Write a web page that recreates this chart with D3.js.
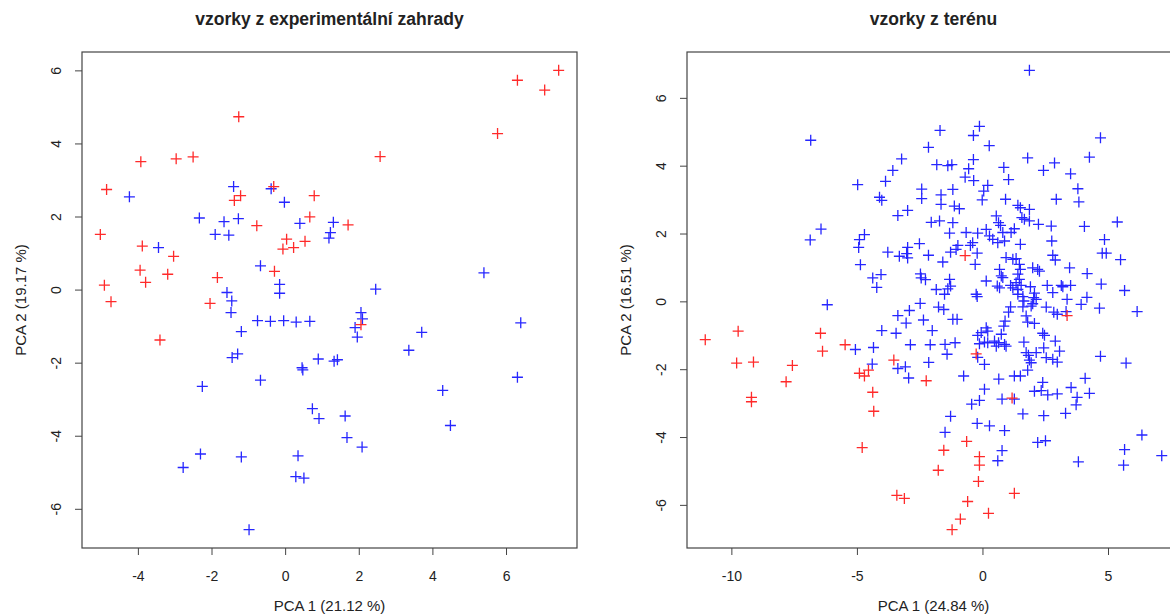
<!DOCTYPE html>
<html>
<head>
<meta charset="utf-8">
<script src="https://cdn.jsdelivr.net/npm/d3@7"></script>
<style>
  body { margin: 0; background: #fff; }
  svg { display: block; }
  text { font-family: "Liberation Sans", Arial, sans-serif; fill: #222; }
</style>
</head>
<body>
<svg id="chart" width="1170" height="615"></svg>
<script>
// PCA scores
const gardenRed = [[7.43,6.00],[6.31,5.73],[7.05,5.46],[5.77,4.27],[-1.26,4.73],[2.58,3.64],[-3.92,3.50],[-2.96,3.58],[-2.50,3.63],[-4.85,2.74],[-0.31,2.82],[-1.21,2.57],[-1.38,2.44],[0.79,2.57],[0.67,1.99],[1.71,1.77],[-0.77,1.75],[-5.02,1.51],[-3.88,1.19],[0.04,1.38],[-0.06,1.11],[0.23,1.15],[0.54,1.32],[-3.03,0.91],[-3.94,0.53],[-3.19,0.42],[-3.79,0.20],[-1.84,0.33],[-0.29,0.50],[-4.91,0.12],[-4.73,-0.33],[-2.04,-0.38],[-3.40,-1.38],[2.06,-0.96]];

const gardenBlue = [[-4.23,2.54],[-1.40,2.82],[-0.38,2.76],[-0.02,2.39],[-2.33,1.96],[-1.66,1.86],[-1.27,1.94],[-1.90,1.51],[-1.53,1.49],[0.40,1.81],[1.31,1.84],[1.23,1.56],[1.19,1.41],[-3.44,1.15],[-0.67,0.65],[-0.15,0.14],[-0.15,-0.10],[-1.58,-0.08],[-1.45,-0.31],[-1.47,-0.63],[-1.19,-1.15],[-0.75,-0.85],[-0.40,-0.87],[-0.04,-0.85],[0.30,-0.89],[0.67,-0.87],[2.46,0.01],[2.06,-0.63],[2.10,-0.80],[1.90,-1.04],[1.96,-1.30],[5.40,0.46],[6.40,-0.91],[3.71,-1.17],[3.36,-1.66],[-1.29,-1.76],[-1.44,-1.86],[0.90,-1.90],[1.33,-1.96],[1.42,-1.92],[0.46,-2.14],[0.48,-2.20],[-2.25,-2.65],[-0.67,-2.48],[6.31,-2.40],[4.28,-2.76],[0.74,-3.26],[0.92,-3.53],[1.63,-3.46],[4.49,-3.72],[1.68,-4.05],[2.09,-4.31],[-2.30,-4.50],[-2.77,-4.87],[-1.19,-4.58],[0.35,-4.55],[0.29,-5.12],[0.51,-5.16],[-0.98,-6.57]];

const fieldRed = [[-11.04,-1.13],[-9.73,-0.88],[-9.79,-1.82],[-9.12,-1.79],[-9.20,-2.83],[-9.20,-2.96],[-7.57,-1.89],[-7.82,-2.37],[-6.45,-0.94],[-6.37,-1.47],[-5.47,-1.28],[-3.53,-1.73],[-4.90,-2.12],[-4.70,-2.20],[-4.54,-2.03],[-4.37,-2.68],[-4.33,-3.24],[-4.79,-4.31],[-2.24,-2.34],[-0.25,-1.55],[-0.63,-4.13],[-1.54,-4.39],[-0.12,-4.58],[-0.12,-4.83],[-1.76,-4.98],[-0.16,-5.31],[-3.41,-5.72],[-3.11,-5.81],[-0.59,-5.90],[0.24,-6.25],[-0.88,-6.42],[-1.21,-6.73],[3.37,-0.42],[1.18,-2.85],[1.27,-5.66],[-0.69,1.35]];

const fieldBlue = [[-6.84,4.75],[-6.43,2.13],[-6.86,1.81],[-6.18,-0.10],
[-0.12,5.16],[-0.36,4.89],[-1.69,5.04],[-2.15,4.54],[0.27,4.59],[-3.22,4.20],[-3.57,3.86],[-3.86,3.54],[-4.97,3.44],[-1.82,4.03],[-1.38,4.00],[-1.22,4.03],[-0.36,4.18],[-0.55,3.91],[-0.69,3.66],[-0.35,3.56],[0.85,3.95],[1.04,3.59],[-2.42,3.31],[-2.42,3.03],[-4.10,3.07],[-4.01,2.98],[-2.98,2.68],[-3.37,2.53],[-2.04,2.33],[-4.70,1.97],[-4.90,1.82],[-4.93,1.59],[-2.51,1.70],[-3.77,1.45],[-2.98,1.59],[-3.31,1.33],[-3.02,1.41],[-2.98,1.28],[-2.15,1.36],[-4.86,1.08],[-4.37,0.69],[-4.04,0.79],[-4.21,0.41],[-2.47,0.81],[-2.27,0.64],[-2.44,0.69],
[1.87,6.81],[4.70,4.82],[1.80,4.23],[2.87,4.08],[4.26,4.25],[2.43,3.86],[3.51,3.76],[5.37,2.34],[4.86,1.82],[4.77,1.42],[4.93,1.42],[5.50,1.23],[4.17,0.82],[4.73,0.51],[5.66,0.32],[4.16,0.12],[4.06,2.21],
[0.21,3.42],[0.05,3.25],[-0.01,2.99],[-1.18,3.30],[-1.65,3.14],[-1.65,2.86],[0.92,3.01],[2.94,3.01],[3.80,3.32],[3.84,2.93],[-1.12,2.81],[-0.92,2.73],[1.41,2.83],[1.51,2.76],[1.87,2.71],[1.57,2.47],[1.67,2.42],[1.87,2.37],[-1.71,2.37],[-1.18,2.32],[0.55,2.52],[0.64,2.32],[0.72,2.24],[2.23,2.27],[2.74,2.22],[-1.31,2.01],[-0.65,2.03],[-0.19,2.01],[0.15,2.12],[0.28,1.93],[0.81,2.03],[1.14,2.03],[1.27,2.14],[0.41,1.83],[0.61,1.73],[0.88,1.78],[1.51,1.68],[2.76,1.78],[-0.39,1.73],[-0.48,1.65],[-0.98,1.65],[-1.05,1.53],[-1.27,1.45],[-0.21,1.42],[-0.29,1.09],[-1.58,1.16],[0.94,1.29],[1.21,1.24],[1.34,1.26],[2.80,1.36],[2.90,1.22],[1.47,1.09],[1.51,0.94],[3.47,0.99],[0.68,0.94],[0.75,0.75],[0.81,0.70],[2.00,0.99],[2.20,0.94],[2.27,0.89],[1.41,0.80],[1.47,0.65],[1.34,0.55],[1.54,0.47],[-1.31,0.65],[-1.27,0.45],[-1.38,0.37],[0.15,0.60],[0.59,0.45],[0.68,0.40],[1.12,0.47],[1.21,0.40],[1.41,0.35],[1.41,0.21],[1.91,0.43],[2.58,0.47],[3.14,0.47],[3.20,0.43],[3.51,0.47],[-1.84,0.35],[-1.51,0.21],[-0.25,0.21],[-0.21,0.14],[1.61,0.14],[1.65,0.01],[2.07,0.24],[2.04,0.11],[2.14,0.06],[2.80,0.26],[3.37,0.06],[1.94,-0.14],[2.00,-0.07],[1.61,-0.16],[2.54,-0.17],[1.12,-0.16],[1.04,-0.32],[2.84,-0.32],[2.98,-0.38],[3.93,-0.09],[-1.75,-0.17],[-1.54,-0.24],[-1.18,-0.53],[-1.01,-0.53],[1.74,-0.43],[1.80,-0.61],[2.07,-0.65],[0.90,-0.58],[0.85,-0.73],[0.15,-0.78],[0.21,-0.88],[-0.05,-0.92],[-0.19,-1.00],[0.75,-0.97],[2.40,-0.94],[2.47,-1.00],[0.08,-1.20],[0.21,-1.22],[0.48,-1.17],[0.64,-1.22],[0.55,-1.32],[0.88,-1.27],[0.94,-1.32],[1.65,-1.20],[2.90,-1.17],[-1.49,-1.27],[-1.09,-1.22],[2.44,-1.37],[-1.41,-1.56],[-0.12,-1.25],[1.74,-1.51],[1.83,-1.59],[1.87,-1.73],[1.94,-1.81],[2.14,-1.51],[3.07,-1.47],[2.54,-1.66],[2.80,-1.71],[2.98,-1.79],[0.08,-1.86],[1.80,-2.03],[-0.75,-2.20],[1.27,-2.20],[1.51,-2.20],[3.33,-0.30],
[-2.48,-0.06],[-2.91,-0.27],[-3.37,-0.42],[-3.04,-0.64],[-2.35,-0.55],[-4.01,-0.86],[-3.44,-0.94],[-2.00,-0.86],[-2.87,-1.28],[-2.08,-1.28],[-4.34,-1.36],[-5.06,-1.42],[-4.39,-1.85],[-3.37,-1.98],[-3.07,-1.93],[-2.14,-1.80],[-2.94,-2.26],[-0.19,-1.65],[0.65,-2.29],[0.08,-2.59],[-0.12,-2.92],[-0.43,-3.03],[0.78,-2.88],[-1.27,-3.39],[-1.49,-3.86],[-0.21,-3.60],[0.28,-3.67],[0.88,-3.81],[0.78,-4.40],[0.61,-4.70],
[4.66,-0.20],[6.16,-0.30],[4.70,-1.62],[5.72,-1.82],[4.09,-2.27],[3.53,-2.54],[4.26,-2.71],[3.77,-2.83],[3.73,-3.05],[2.98,-2.73],[2.40,-2.39],[2.34,-2.63],[2.07,-2.65],[2.60,-2.76],[1.27,-2.88],[1.61,-3.32],[2.44,-3.37],[3.31,-3.30],[6.35,-3.94],[2.20,-4.16],[2.51,-4.11],[5.66,-4.37],[7.14,-4.55],[3.82,-4.73],[5.62,-4.83]];

const gardenXTicks = [-4, -2, 0, 2, 4, 6];
const gardenYTicks = [-6, -4, -2, 0, 2, 4, 6];
const fieldXTicks = [-10, -5, 0, 5];
const fieldYTicks = [-6, -4, -2, 0, 2, 4, 6];

const svg = d3.select('#chart');

// R-style range: data extent widened by 4% on both sides
function rRange(values) {
    const ext = d3.extent(values);
    const d = (ext[1] - ext[0]) * 0.04;
    return [ext[0] - d, ext[1] + d];
}

function drawPanel(p) {
    const all = p.blue.concat(p.red);
    const x = d3.scaleLinear().domain(rRange(all.map(d => d[0]))).range([p.left, p.right]);
    const y = d3.scaleLinear().domain(rRange(all.map(d => d[1]))).range([p.bottom, p.top]);

    const g = svg.append('g');

    // x axis
    const xa = g.append('g')
        .attr('transform', `translate(0,${p.bottom})`)
        .call(d3.axisBottom(x).tickValues(p.xTicks).tickSize(7).tickPadding(16).tickFormat(d => String(d)));
    xa.select('.domain').remove();
    xa.selectAll('.tick line').attr('stroke', '#444');
    xa.selectAll('.tick text').attr('font-size', 14).attr('fill', '#222').attr('font-family', '"Liberation Sans", Arial, sans-serif');

    // y axis, labels turned parallel to the axis
    const ya = g.append('g')
        .attr('transform', `translate(${p.left},0)`)
        .call(d3.axisLeft(y).tickValues(p.yTicks).tickSize(7).tickFormat(d => String(d)));
    ya.select('.domain').remove();
    ya.selectAll('.tick line').attr('stroke', '#444');
    ya.selectAll('.tick text')
        .attr('x', 0).attr('y', -21).attr('dy', 0)
        .attr('text-anchor', 'middle')
        .attr('transform', 'rotate(-90)')
        .attr('font-size', 14).attr('fill', '#222')
        .attr('font-family', '"Liberation Sans", Arial, sans-serif');

    // plot box
    g.append('rect')
        .attr('x', p.left).attr('y', p.top)
        .attr('width', p.right - p.left).attr('height', p.bottom - p.top)
        .attr('fill', 'none').attr('stroke', '#444').attr('stroke-width', 1.2);

    const cx = (p.left + p.right) / 2;
    g.append('text')
        .attr('x', cx).attr('y', 25)
        .attr('text-anchor', 'middle')
        .attr('font-size', 17.5).attr('font-weight', 'bold')
        .text(p.title);

    g.append('text')
        .attr('x', cx).attr('y', 611)
        .attr('text-anchor', 'middle')
        .attr('font-size', 15)
        .text(p.xLabel);

    g.append('text')
        .attr('transform', `translate(${p.left - 56},${(p.top + p.bottom) / 2}) rotate(-90)`)
        .attr('text-anchor', 'middle')
        .attr('font-size', 15)
        .text(p.yLabel);

    // points drawn as '+' (pch = 3)
    const s = 5.5;
    const cross = d => `M${x(d[0]) - s},${y(d[1])}H${x(d[0]) + s}M${x(d[0])},${y(d[1]) - s}V${y(d[1]) + s}`;

    g.append('g').selectAll('path')
        .data(p.blue)
        .enter().append('path')
        .attr('d', cross)
        .attr('stroke', '#2626ff')
        .attr('stroke-width', 1.3)
        .attr('fill', 'none');

    g.append('g').selectAll('path')
        .data(p.red)
        .enter().append('path')
        .attr('d', cross)
        .attr('stroke', '#ff2a2a')
        .attr('stroke-width', 1.3)
        .attr('fill', 'none');
}

drawPanel({
    left: 82, right: 577, top: 52, bottom: 548,
    title: 'vzorky z experimentální zahrady',
    xLabel: 'PCA 1 (21.12 %)',
    yLabel: 'PCA 2 (19.17 %)',
    xTicks: gardenXTicks, yTicks: gardenYTicks,
    red: gardenRed, blue: gardenBlue
});

drawPanel({
    left: 687, right: 1180, top: 52, bottom: 548,
    title: 'vzorky z terénu',
    xLabel: 'PCA 1 (24.84 %)',
    yLabel: 'PCA 2 (16.51 %)',
    xTicks: fieldXTicks, yTicks: fieldYTicks,
    red: fieldRed, blue: fieldBlue
});
</script>
</body>
</html>
